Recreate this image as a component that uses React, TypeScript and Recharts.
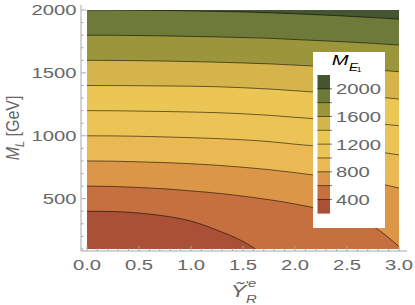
import React from 'react';
import { ComposedChart, Area, XAxis, YAxis, Legend } from 'recharts';

// Ỹ'eR sample points along the x axis
const yTilde = [0, 0.25, 0.5, 0.75, 1, 1.25, 1.5, 1.62, 1.75, 2, 2.25, 2.5, 2.75, 3];

// contour lines of M_E1 [GeV]: the M_L value on each line at the yTilde points
const m2000 = [2000, 2000, 1998, 1996, 1993, 1989, 1985, null, 1978, 1970, 1961, 1951, 1940, 1927];
const m1800 = [1800, 1799, 1797, 1794, 1790, 1786, 1781, null, 1775, 1765, 1756, 1746, 1735, 1721];
const m1600 = [1600, 1599, 1597, 1594, 1590, 1585, 1579, null, 1572, 1562, 1552, 1540, 1526, 1509];
const m1400 = [1400, 1399, 1398, 1396, 1394, 1390, 1382, null, 1372, 1358, 1344, 1328, 1312, 1292];
const m1200 = [1200, 1199, 1196, 1193, 1189, 1184, 1175, null, 1163, 1147, 1132, 1117, 1100, 1080];
const m1000 = [1000, 999, 996, 991, 985, 978, 968, null, 954, 933, 915, 898, 877, 848];
const m800 = [800, 798, 793, 787, 778, 766, 750, null, 731, 707, 680, 655, 628, 585];
const m600 = [600, 597, 589, 578, 562, 544, 520, null, 492, 458, 415, 362, 280, 120];
const m400 = [400, 398, 386, 362, 322, 250, 160, 100, null, null, null, null, null, null];

const levels = [2000, 1800, 1600, 1400, 1200, 1000, 800, 600, 400];
const legendLabels = [2000, 1600, 1200, 800, 400];

// band colours, top (> 2000) to bottom (< 400)
const bandColors = [
  '#465530', '#6d7a3a', '#9b963c', '#d4b44b', '#ebc655',
  '#ecc456', '#eab953', '#dc9648', '#c67040', '#aa5037',
];

const xTicks = [
  0, 0.1, 0.2, 0.3, 0.4, 0.5, 0.6, 0.7, 0.8, 0.9, 1, 1.1, 1.2, 1.3, 1.4, 1.5,
  1.6, 1.7, 1.8, 1.9, 2, 2.1, 2.2, 2.3, 2.4, 2.5, 2.6, 2.7, 2.8, 2.9, 3,
];
const xMajor = [0, 0.5, 1, 1.5, 2, 2.5, 3];
const yTicks = [
  100, 200, 300, 400, 500, 600, 700, 800, 900, 1000,
  1100, 1200, 1300, 1400, 1500, 1600, 1700, 1800, 1900, 2000,
];
const yMajor = [500, 1000, 1500, 2000];

const M_MIN = 100;
const M_MAX = 2000;

const series = [
  { key: 'm2000', values: m2000 },
  { key: 'm1800', values: m1800 },
  { key: 'm1600', values: m1600 },
  { key: 'm1400', values: m1400 },
  { key: 'm1200', values: m1200 },
  { key: 'm1000', values: m1000 },
  { key: 'm800', values: m800 },
  { key: 'm600', values: m600 },
  { key: 'm400', values: m400 },
];

const data = yTilde.map((y, i) => {
  const row: any = { y };
  series.forEach((s) => { row[s.key] = s.values[i]; });
  return row;
});

const FONT = 'Liberation Sans, Arial, sans-serif';
const FRAME = '#a8a8a8';
const TEXT = '#666';
const xPad = { left: 6, right: 8 };
const yPad = { top: 5, bottom: 2 };

const isMajor = (list: number[], v: number) => list.some((m) => Math.abs(m - v) < 1e-6);

function BottomTick({ x, y, payload }: any) {
  const major = isMajor(xMajor, payload.value);
  return (
    <g>
      <line x1={x} x2={x} y1={y} y2={y - (major ? 5 : 2.5)} stroke={FRAME} />
      {major && (
        <text transform={`translate(${x},${y + 19}) scale(1.35,1)`} textAnchor="middle"
          fill={TEXT} fontSize={15} fontFamily={FONT}>
          {payload.value.toFixed(1)}
        </text>
      )}
    </g>
  );
}

function TopTick({ x, y, payload }: any) {
  const major = isMajor(xMajor, payload.value);
  return <line x1={x} x2={x} y1={y} y2={y + (major ? 5 : 2.5)} stroke={FRAME} />;
}

function LeftTick({ x, y, payload }: any) {
  const major = isMajor(yMajor, payload.value);
  return (
    <g>
      <line x1={x} x2={x + (major ? 5 : 2.5)} y1={y} y2={y} stroke={FRAME} />
      {major && (
        <text transform={`translate(${x - 4.5},${y}) scale(1.35,1)`} textAnchor="end" dy="0.36em"
          fill={TEXT} fontSize={15} fontFamily={FONT}>
          {payload.value}
        </text>
      )}
    </g>
  );
}

function RightTick({ x, y, payload }: any) {
  const major = isMajor(yMajor, payload.value);
  return <line x1={x} x2={x - (major ? 5 : 2.5)} y1={y} y2={y} stroke={FRAME} />;
}

function XTitle({ viewBox }: any) {
  const cx = viewBox.x + viewBox.width / 2;
  const top = viewBox.y;
  const sx = 'scale(1.35,1)';
  return (
    <g fill={TEXT} fontFamily={FONT} fontStyle="italic">
      <text transform={`translate(${cx - 5.5},${top + 46}) ${sx}`} textAnchor="middle" fontSize={17}>Ỹ</text>
      <text transform={`translate(${cx + 2},${top + 38}) ${sx}`} fontSize={11} fontStyle="normal">'</text>
      <text transform={`translate(${cx + 4},${top + 36}) ${sx}`} fontSize={11}>e</text>
      <text transform={`translate(${cx + 2},${top + 52}) ${sx}`} fontSize={11}>R</text>
    </g>
  );
}

function YTitle({ viewBox }: any) {
  const cy = viewBox.y + viewBox.height / 2;
  return (
    <text transform={`translate(19,${cy}) rotate(-90) scale(1,1.2)`} textAnchor="middle"
      fill={TEXT} fontSize={16} fontFamily={FONT}>
      <tspan fontStyle="italic">M</tspan>
      <tspan fontStyle="italic" fontSize={11} dy={4}>L</tspan>
      <tspan dy={-4}> [GeV]</tspan>
    </text>
  );
}

function ColorBar() {
  const bandH = 13.83;
  const top = 23;
  return (
    <div style={{ width: 72, height: 176, background: '#fff' }}>
      <svg width={72} height={176} style={{ display: 'block' }}>
        <g fontFamily={FONT} fontStyle="italic" fill="#000">
          <text transform="translate(18.7,13) scale(1.35,1)" fontSize={15}>M</text>
          <text transform="translate(36,18.5) scale(1.35,1)" fontSize={10}>E</text>
          <text transform="translate(43.7,19.5) scale(1.2,1)" fontSize={7} fontStyle="normal">1</text>
        </g>
        {bandColors.map((c, i) => (
          <rect key={c + i} x={4.5} y={top + i * bandH} width={12.5} height={bandH + 0.3} fill={c} />
        ))}
        {levels.map((lv, k) => (
          <line key={lv} x1={4.5} x2={19} y1={top + (k + 1) * bandH} y2={top + (k + 1) * bandH}
            stroke="rgba(0,0,0,0.55)" />
        ))}
        {legendLabels.map((lv) => {
          const k = levels.indexOf(lv);
          return (
            <text key={lv} transform={`translate(23,${top + (k + 1) * bandH + 5.4}) scale(1.35,1)`}
              fill={TEXT} fontSize={15} fontFamily={FONT}>
              {lv}
            </text>
          );
        })}
      </svg>
    </div>
  );
}

export default function App() {
  return (
    <div style={{ position: 'absolute', left: 0, top: 0, width: 415, height: 305, background: '#fff' }}>
      <ComposedChart width={415} height={305} data={data}
        margin={{ top: 5, right: 8, bottom: 0, left: 0 }}>
        <XAxis dataKey="y" type="number" domain={[0, 3]} allowDataOverflow ticks={xTicks} interval={0}
          padding={xPad} height={54} tickSize={0} tickMargin={0} tickLine={false}
          axisLine={{ stroke: FRAME }} tick={<BottomTick />} label={<XTitle />} />
        <XAxis xAxisId="top" orientation="top" dataKey="y" type="number" domain={[0, 3]} allowDataOverflow
          ticks={xTicks} interval={0} padding={xPad} height={0} tickSize={0} tickMargin={0}
          tickLine={false} axisLine={{ stroke: FRAME }} tick={<TopTick />} />
        <YAxis type="number" domain={[M_MIN, M_MAX]} allowDataOverflow ticks={yTicks} interval={0}
          padding={yPad} width={81} tickSize={0} tickMargin={0} tickLine={false}
          axisLine={{ stroke: FRAME }} tick={<LeftTick />} label={<YTitle />} />
        <YAxis yAxisId="right" orientation="right" type="number" domain={[M_MIN, M_MAX]} allowDataOverflow
          ticks={yTicks} interval={0} padding={yPad} width={0} tickSize={0} tickMargin={0}
          tickLine={false} axisLine={{ stroke: FRAME }} tick={<RightTick />} />
        <Legend layout="vertical" align="center" verticalAlign="middle"
          wrapperStyle={{ left: 313, top: 52, width: 72, height: 176 }} content={<ColorBar />} />

        {/* band above the 2000 line */}
        <Area dataKey={() => M_MAX} type="linear" baseValue="dataMin" fill={bandColors[0]}
          fillOpacity={1} stroke="none" dot={false} activeDot={false} isAnimationActive={false} />
        {series.map((s, i) => (
          <Area key={s.key} dataKey={s.key} type="monotone" baseValue="dataMin"
            fill={bandColors[i + 1]} fillOpacity={1} stroke="rgba(0,0,0,0.55)" strokeWidth={1}
            connectNulls={s.key !== 'm400'} dot={false} activeDot={false} isAnimationActive={false} />
        ))}
      </ComposedChart>
    </div>
  );
}
